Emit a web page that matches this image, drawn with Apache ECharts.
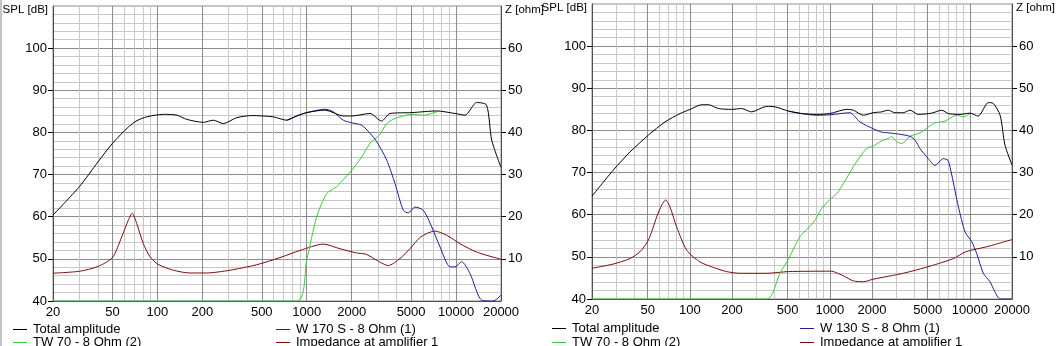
<!DOCTYPE html>
<html><head><meta charset="utf-8">
<script src="https://cdn.jsdelivr.net/npm/echarts@6/dist/echarts.min.js"></script>
<style>html,body{margin:0;padding:0;background:#fff}#c{width:1063px;height:346px}</style>
</head><body><div id="c"></div>
<script>
// ---- tick labels / grid ----
const freqLabels = [20, 50, 100, 200, 500, 1000, 2000, 5000, 10000, 20000];
const freqGrid = [30, 40, 50, 60, 70, 80, 90, 100, 200, 300, 400, 500, 600, 700, 800, 900, 1000, 2000, 3000, 4000, 5000, 6000, 7000, 8000, 9000, 10000];
const majorFreq = [50, 100, 200, 500, 1000, 2000, 5000, 10000];
const splTicks = [40, 50, 60, 70, 80, 90, 100];
const zTicks = [10, 20, 30, 40, 50, 60];

// ---- left chart (W 170 S) ----
const leftTotalF = [20, 30, 40, 50, 64, 73, 85, 110, 135, 157, 203, 237, 276, 340, 428, 597, 734, 857, 1000, 1325, 1758, 2000, 2654, 3170, 3612, 5050, 7415, 9840, 11480, 13750, 16000, 17330, 20000];
const leftTotalV = [60.4, 67.1, 73.0, 77.4, 81.3, 82.8, 83.7, 84.3, 84.1, 83.1, 82.4, 82.9, 82.1, 83.5, 84.0, 83.7, 82.9, 83.9, 84.7, 85.3, 83.9, 83.9, 84.5, 82.7, 84.5, 84.7, 85.1, 84.5, 84.1, 87.1, 86.5, 78.2, 71.7];
const leftWooferF = [734, 857, 1000, 1325, 1507, 1758, 2000, 2335, 2654, 2944, 3437, 3900, 4435, 4787, 5310, 6040, 6870, 7820, 9120, 9840, 10910, 12400, 14860, 17700, 20000];
const leftWooferV = [82.9, 83.9, 84.7, 85.5, 84.9, 82.9, 82.3, 81.7, 79.8, 77.8, 73.4, 67.9, 61.5, 60.9, 62.3, 61.5, 57.6, 52.8, 48.1, 48.1, 49.3, 46.5, 40.2, 40, 41.4];
const leftTweeterF = [20, 857, 1000, 1167, 1362, 1588, 1705, 2000, 2335, 2654, 3070, 3437, 3900, 5050, 6040, 7415];
const leftTweeterV = [40, 40, 49.7, 60.0, 65.5, 67.1, 68.3, 71.0, 74.2, 77.4, 79.4, 82.1, 83.3, 84.3, 84.1, 84.9];
const leftImpF = [20, 30, 40, 50, 57.7, 63.9, 67.9, 72.7, 80.5, 89.3, 101, 128, 165, 213, 306, 462, 662, 902, 1292, 1671, 2162, 2496, 3070, 3517, 4216, 4910, 5800, 7200, 8650, 10620, 13750, 20000];
const leftImpV = [6.6, 7.05, 8.2, 10.3, 15.2, 19.2, 20.8, 18.4, 13.6, 10.5, 8.7, 7.3, 6.65, 6.65, 7.3, 8.6, 10.3, 12.0, 13.5, 12.4, 11.4, 11.1, 9.3, 8.4, 10.1, 12.4, 15.2, 16.6, 15.6, 13.6, 11.6, 9.9];

// ---- right chart (W 130 S) ----
const rightTotalF = [20, 28.4, 37.4, 50.6, 66.4, 85.1, 100.6, 121.6, 135.9, 159.7, 199, 234, 276, 353, 406, 505, 630, 804, 1000, 1320, 1472, 1734, 2040, 2340, 2610, 2920, 3340, 3735, 4285, 5340, 6290, 7020, 8500, 10020, 11450, 13550, 14700, 16450, 17830, 20000];
const rightTotalV = [64.4, 70.6, 74.9, 78.9, 82.0, 84.0, 85.0, 86.1, 86.1, 85.2, 85.0, 85.2, 84.4, 85.7, 85.6, 84.6, 84.0, 83.8, 84.0, 85.0, 84.8, 83.6, 84.2, 84.4, 84.8, 84.2, 84.2, 84.8, 83.8, 84.1, 84.8, 84.0, 83.8, 84.1, 83.4, 86.6, 86.4, 83.6, 76.5, 71.8];
const rightWooferF = [505, 630, 804, 1000, 1394, 1518, 1642, 2040, 2340, 2680, 3150, 3735, 4065, 4400, 5050, 5640, 6460, 6980, 7430, 8280, 9250, 10310, 11190, 12480, 13930, 15100, 16450, 20000];
const rightWooferV = [84.6, 84.0, 83.6, 83.7, 84.2, 83.2, 82.0, 80.4, 79.6, 79.4, 79.1, 78.6, 77.7, 75.7, 73.3, 71.7, 73.3, 72.9, 69.4, 61.9, 55.9, 53.6, 50.8, 46.1, 44.1, 41.7, 40, 40];
const rightTweeterF = [20, 354, 440, 505, 612, 762, 875, 1000, 1119, 1250, 1472, 1642, 1833, 2040, 2280, 2680, 2760, 3000, 3270, 3735, 4400, 5050, 5640, 6650, 8050, 9000, 10020];
const rightTweeterV = [40, 40, 46.1, 49.4, 54.8, 58.1, 61.5, 63.6, 65.0, 67.4, 71.4, 73.7, 75.7, 76.3, 77.3, 78.3, 78.6, 77.3, 76.9, 78.6, 79.4, 80.8, 81.8, 82.2, 83.6, 83.2, 84.0];
const rightImpF = [20, 28.4, 37.4, 44, 50.6, 58, 63, 67.2, 72, 80.5, 94.9, 118, 147, 183, 228, 354, 505, 1000, 1062, 1250, 1472, 1734, 2040, 3340, 5200, 7620, 9340, 13190, 20000];
const rightImpV = [7.3, 8.3, 9.6, 11.2, 14.0, 19.5, 22.3, 23.5, 21.9, 17.1, 11.6, 8.8, 7.5, 6.5, 6.1, 6.1, 6.5, 6.6, 6.5, 5.5, 4.3, 4.1, 4.7, 6.1, 7.8, 9.6, 11.2, 12.4, 14.1];

// legend names (the right chart's copies carry a trailing space so each chart keeps its own legend entries)
const leftNames = { total: 'Total amplitude', tw: 'TW 70 - 8 Ohm (2)', woofer: 'W 170 S - 8 Ohm (1)', imp: 'Impedance at amplifier 1' };
const rightNames = { total: 'Total amplitude ', tw: 'TW 70 - 8 Ohm (2) ', woofer: 'W 130 S - 8 Ohm (1)', imp: 'Impedance at amplifier 1 ' };

const FONT = '"Liberation Sans", Arial, sans-serif';
const C_MAJOR = '#8c8c8c', C_MINOR = '#c8c8c8', C_AXIS = '#505050';
const C_BLACK = '#000000', C_BLUE = '#1e1e96', C_GREEN = '#3cc83c', C_RED = '#7a0c0c';

function pairs(f, v) { return f.map((x, i) => [x, v[i]]); }
const txt = { color: '#000', fontSize: 13, fontFamily: FONT };
const nameTxt = { color: '#000', fontSize: 11.5, fontFamily: FONT };

function makeX(gi) {
  return {
    type: 'log', logBase: 10, gridIndex: gi, min: 20, max: 20000,
    axisLine: { show: true, onZero: false, lineStyle: { color: C_AXIS } },
    axisTick: { show: false },
    splitLine: { show: false },
    axisLabel: Object.assign({ customValues: freqLabels, margin: 5, hideOverlap: false,
      formatter: v => String(Math.round(v)) }, txt)
  };
}
function makeSpl(gi) {
  return {
    type: 'value', gridIndex: gi, position: 'left', min: 40, max: 110, interval: 10,
    axisLine: { show: true, onZero: false, lineStyle: { color: C_AXIS } },
    axisTick: { show: true, length: 5, customValues: splTicks, lineStyle: { color: '#000' } },
    axisLabel: Object.assign({ customValues: splTicks, margin: 6 }, txt),
    splitLine: { show: true, lineStyle: { color: C_MAJOR, width: 1 } },
    minorTick: { show: false, splitNumber: 5 },
    minorSplitLine: { show: true, lineStyle: { color: C_MINOR, width: 1 } },
    name: 'SPL [dB]', nameLocation: 'end', nameGap: -4,
    nameTextStyle: Object.assign({ align: 'right', verticalAlign: 'middle', padding: [0, 5, 0, 0] }, nameTxt)
  };
}
function makeZ(gi) {
  return {
    type: 'value', gridIndex: gi, position: 'right', min: 0, max: 70, interval: 10,
    axisLine: { show: true, onZero: false, lineStyle: { color: C_AXIS } },
    axisTick: { show: true, length: 5, customValues: zTicks, lineStyle: { color: '#000' } },
    axisLabel: Object.assign({ customValues: zTicks, margin: 7 }, txt),
    splitLine: { show: false },
    name: 'Z [ohm]', nameLocation: 'end', nameGap: -4,
    nameTextStyle: Object.assign({ align: 'left', verticalAlign: 'middle', padding: [0, 0, 0, 4] }, nameTxt)
  };
}
function gridSeries(gi) {
  return {
    type: 'line', xAxisIndex: gi, yAxisIndex: gi * 2, data: [], silent: true, z: 1,
    markLine: {
      silent: true, z: 1, symbol: ['none', 'none'], animation: false,
      label: { show: false }, emphasis: { disabled: true },
      data: freqGrid.map(f => ({ xAxis: f, lineStyle: { color: majorFreq.includes(f) ? C_MAJOR : C_MINOR, width: 1, type: 'solid' } }))
    }
  };
}
function curve(name, gi, yi, f, v, color, z) {
  return {
    name, type: 'line', xAxisIndex: gi, yAxisIndex: yi, data: pairs(f, v),
    showSymbol: false, symbol: 'none', smooth: 0.25, z: z, clip: true,
    lineStyle: { color, width: 1 }, itemStyle: { color }, emphasis: { disabled: true }
  };
}
function legend(left, top, name, color) {
  return {
    left, top, orient: 'horizontal', padding: 0, itemGap: 0, itemWidth: 14, itemHeight: 1,
    icon: 'rect', selectedMode: false, inactiveColor: color, inactiveBorderColor: color,
    data: [{ name, icon: 'rect', itemStyle: { color, borderWidth: 0 }, textStyle: { color: '#000' } }],
    textStyle: Object.assign({ lineHeight: 13, padding: [0, 0, 0, 1] }, txt)
  };
}

const chart = echarts.init(document.getElementById('c'), null, { renderer: 'canvas' });
chart.setOption({
  animation: false,
  backgroundColor: '#fff',
  grid: [
    { left: 53, top: 6, width: 448, height: 295, show: true, borderColor: C_MAJOR, borderWidth: 1, containLabel: false },
    { left: 592, top: 4, width: 420, height: 295, show: true, borderColor: C_MAJOR, borderWidth: 1, containLabel: false }
  ],
  xAxis: [makeX(0), makeX(1)],
  yAxis: [makeSpl(0), makeZ(0), makeSpl(1), makeZ(1)],
  legend: [
    legend(13, 323, leftNames.total, C_BLACK),
    legend(13, 336, leftNames.tw, C_GREEN),
    legend(276, 323, leftNames.woofer, C_BLUE),
    legend(276, 336, leftNames.imp, C_RED),
    legend(552, 322, rightNames.total, C_BLACK),
    legend(552, 336, rightNames.tw, C_GREEN),
    legend(800, 322, rightNames.woofer, C_BLUE),
    legend(800, 336, rightNames.imp, C_RED)
  ],
  graphic: [{ type: 'rect', left: 0, top: 0, shape: { width: 2, height: 346 }, style: { fill: '#c4c4c4' }, silent: true }],
  series: [
    gridSeries(0), gridSeries(1),
    curve(leftNames.imp, 0, 1, leftImpF, leftImpV, C_RED, 2),
    curve(leftNames.tw, 0, 0, leftTweeterF, leftTweeterV, C_GREEN, 3),
    curve(leftNames.woofer, 0, 0, leftWooferF, leftWooferV, C_BLUE, 3),
    curve(leftNames.total, 0, 0, leftTotalF, leftTotalV, C_BLACK, 4),
    curve(rightNames.imp, 1, 3, rightImpF, rightImpV, C_RED, 2),
    curve(rightNames.tw, 1, 2, rightTweeterF, rightTweeterV, C_GREEN, 3),
    curve(rightNames.woofer, 1, 2, rightWooferF, rightWooferV, C_BLUE, 3),
    curve(rightNames.total, 1, 2, rightTotalF, rightTotalV, C_BLACK, 4)
  ]
});
</script>
</body></html>
